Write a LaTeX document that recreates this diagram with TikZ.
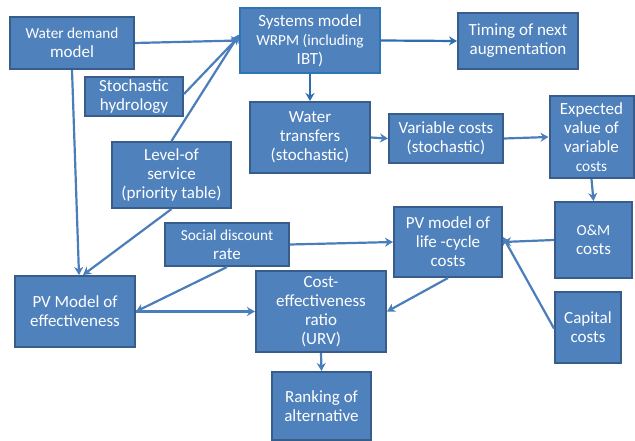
\documentclass[tikz,border=0pt]{standalone}
\usepackage{fontspec}
\setmainfont{Carlito}
\usetikzlibrary{arrows.meta}
\definecolor{boxfill}{HTML}{4F81BD}
\definecolor{boxline}{HTML}{385D8A}
\definecolor{sysline}{HTML}{2E75B6}
\definecolor{arr}{HTML}{4A7EBB}
\definecolor{arrdark}{HTML}{2E6DB0}
\tikzset{
  box/.style={draw=boxline, fill=boxfill, line width=2pt, text=white, align=center,
    inner sep=0pt, font=\fontsize{17}{19}\selectfont},
  conn/.style={draw=arr, line width=2.2pt, -{Stealth[length=8pt,width=9pt,inset=2.5pt]}},
  conndark/.style={conn, draw=arrdark},
}
\newcommand{\sm}{\fontsize{15.3}{19}\selectfont}
\begin{document}
\begin{tikzpicture}[x=1pt,y=-1pt]
\useasboundingbox (0,0) rectangle (635,441);
\node[box, minimum width=124, minimum height=52] (wd) at (72,43) {{\sm Water demand}\\model};
\node[box, draw=sysline, minimum width=140, minimum height=65] (sys) at (310,40.5) {Systems model\\{\sm WRPM (including}\\IBT)};
\node[box, minimum width=120, minimum height=56] (tim) at (518,41) {Timing of next\\augmentation};
\node[box, minimum width=98, minimum height=39] (sh) at (134,96.5) {Stochastic\\hydrology};
\node[box, minimum width=120, minimum height=71] (wt) at (310,137.5) {Water\\transfers\\(stochastic)};
\node[box, minimum width=114, minimum height=49] (vc) at (446,138.5) {Variable costs\\(stochastic)};
\node[box, minimum width=84, minimum height=82] (ev) at (591.5,137) {Expected\\value of\\variable\\{\sm costs}};
\node[box, minimum width=119, minimum height=66] (los) at (171.5,175) {Level-of\\service\\(priority table)};
\node[box, minimum width=124, minimum height=43] (sdr) at (227,244.5) {{\sm Social discount}\\rate};
\node[box, minimum width=120, minimum height=71] (pve) at (75,311.5) {PV Model of\\effectiveness};
\node[box, minimum width=130, minimum height=81] (cer) at (321,311.5) {Cost-\\effectiveness\\ratio\\(URV)};
\node[box, minimum width=99, minimum height=68] (rank) at (321.5,406) {Ranking of\\alternative};
\node[box, minimum width=108, minimum height=70] (pvl) at (448,242) {PV model of\\life -cycle\\costs};
\node[box, minimum width=77, minimum height=76] (om) at (593.5,240) {{\sm O\&M}\\costs};
\node[box, minimum width=66, minimum height=71] (cap) at (588,327.5) {Capital\\costs};

\draw[conn] (wd.east) -- (sys.west);
\draw[conn] (sh.north east) ++(0,18) -- ([yshift=4pt]sys.west);
\draw[conn] (los.north) -- ([yshift=6pt]sys.west);
\draw[conn] ([xshift=0pt]wd.south) -- ([xshift=4pt]pve.north);
\draw[conn] (los.south) -- ([xshift=8pt]pve.north);
\draw[conn] (sdr.south) -- (pve.east);
\draw[conn] (sdr.east) -- (pvl.west);
\draw[conn] (pve.east) -- (cer.west);
\draw[conn] (pvl.south) -- (cer.east);
\draw[conndark] (sys.east) -- (tim.west);
\draw[conndark] (sys.south) -- (wt.north);
\draw[conn] (wt.east) -- (vc.west);
\draw[conn] (vc.east) -- (ev.west);
\draw[conn] (ev.south) -- (om.north);
\draw[conn] (om.west) -- (pvl.east);
\draw[conn] ([yshift=-1pt]cap.west) -- ([yshift=5pt]pvl.east);
\draw[conn] (cer.south) -- (rank.north);
\end{tikzpicture}
\end{document}
